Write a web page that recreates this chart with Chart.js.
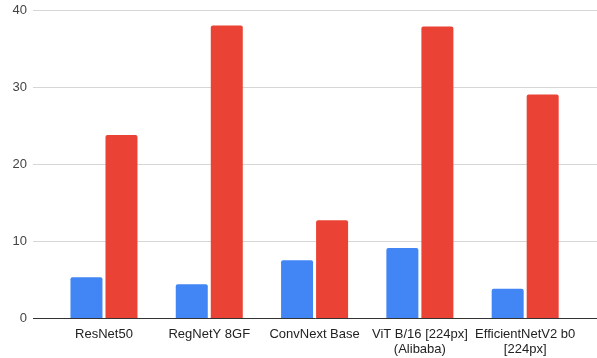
<!DOCTYPE html>
<html>
<head>
<meta charset="utf-8">
<script src="https://cdn.jsdelivr.net/npm/chart.js@4/dist/chart.umd.min.js"></script>
<style>
html,body{margin:0;padding:0;background:#fff;}
#wrap{width:597px;height:358px;position:relative;}
</style>
</head>
<body>
<div id="wrap"><canvas id="c" width="597" height="358"></canvas></div>
<script>
const categories = [
  ["ResNet50"],
  ["RegNetY 8GF"],
  ["ConvNext Base"],
  ["ViT B/16 [224px]", "(Alibaba)"],
  ["EfficientNetV2 b0", "[224px]"]
];
const blueValues = [5.35, 4.45, 7.55, 9.15, 3.85];
const redValues = [23.8, 38.0, 12.75, 37.85, 29.05];
const yTicks = [0, 10, 20, 30, 40];

const toPoints = vals => vals.map((v, i) => ({x: i, y: v}));

new Chart(document.getElementById('c'), {
  type: 'bar',
  data: {
    datasets: [
      {label: 'Series 1', data: toPoints(blueValues), backgroundColor: '#4285F4', borderRadius: 2, borderSkipped: 'bottom', categoryPercentage: 0.665, barPercentage: 0.914},
      {label: 'Series 2', data: toPoints(redValues), backgroundColor: '#EA4335', borderRadius: 2, borderSkipped: 'bottom', categoryPercentage: 0.665, barPercentage: 0.914}
    ]
  },
  options: {
    responsive: false,
    animation: false,
    layout: {padding: {top: 10, right: 0, left: 0, bottom: 0}},
    plugins: {legend: {display: false}, tooltip: {enabled: false}},
    scales: {
      x: {
        type: 'linear',
        offset: false,
        min: -0.674,
        max: 4.682,
        grid: {display: false},
        border: {display: true, color: '#333', width: 1},
        afterFit: s => { s.height = 39.5; },
        afterBuildTicks: s => { s.ticks = categories.map((_, i) => ({value: i})); },
        ticks: {
          autoSkip: false,
          maxRotation: 0,
          padding: 0,
          color: '#222',
          font: {family: 'Liberation Sans', size: 13, lineHeight: 1.15},
          callback: v => categories[v] || ''
        }
      },
      y: {
        min: 0,
        max: 40,
        afterFit: s => { s.width = 33; s.paddingTop = 0; s.paddingBottom = 0; },
        afterBuildTicks: s => { s.ticks = yTicks.map(v => ({value: v})); },
        grid: {color: '#d6d6d6', drawTicks: false},
        border: {display: false},
        ticks: {
          padding: 6,
          color: '#444',
          font: {family: 'Liberation Sans', size: 13}
        }
      }
    }
  }
});
</script>
</body>
</html>
